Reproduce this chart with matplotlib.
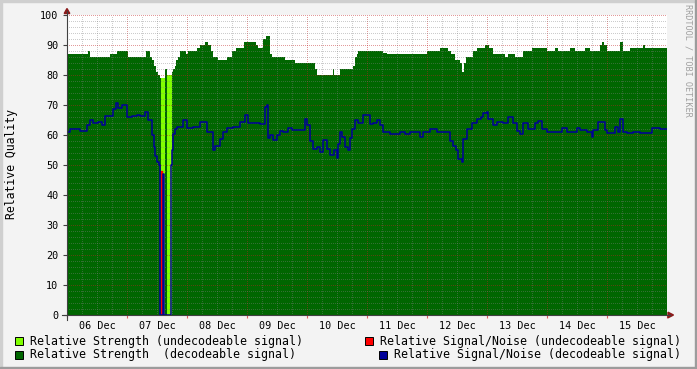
import numpy as np
import matplotlib
matplotlib.use("Agg")
import matplotlib.pyplot as plt
from matplotlib.patches import Rectangle, Polygon
from matplotlib.lines import Line2D

# ---------------- data (time in hours since 06 Dec 00:00) ----------------
day_labels = ["06 Dec", "07 Dec", "08 Dec", "09 Dec", "10 Dec",
              "11 Dec", "12 Dec", "13 Dec", "14 Dec", "15 Dec"]

# Relative Strength (decodeable signal) - step breakpoints
strength_dec_t = [0, 0.4, 8.4, 9.2, 17.2, 20, 24.4, 31.6, 33.2, 34, 34.8, 35.6, 36.4, 37.2,
                  37.6, 39.2, 40, 42, 42.4, 43.2, 43.6, 44.4, 45.2, 47.6, 48.4, 52, 53.2,
                  55.2, 56.4, 57.6, 58.4, 60.4, 64, 66, 67.6, 70.8, 75.6, 76.4, 78.4, 79.6,
                  81.2, 82, 87.2, 91.2, 99.2, 100, 106.4, 106.8, 109.2, 114.4, 115.2, 116,
                  116.4, 126.4, 128, 144, 149.2, 152.4, 153.6, 155.2, 157.2, 158, 158.8,
                  159.6, 162.4, 164, 167.2, 168.8, 170.4, 175.2, 176.4, 179.2, 182.4, 186,
                  192, 195.2, 196.4, 201.2, 203.2, 207.2, 209.2, 213.2, 214, 214.8, 216,
                  221.2, 222.4, 225.2, 230.4, 231.2, 240]
strength_dec_v = [86, 87, 88, 86, 87, 88, 86, 88, 86, 85, 83, 81, 80, 79,
                  0, 82, 0, 81, 82, 83, 85, 86, 88, 87, 88, 89, 90,
                  91, 90, 88, 86, 85, 86, 88, 89, 91, 90, 89, 92, 93,
                  87, 86, 85, 84, 82, 80, 82, 80, 82, 83, 86, 87,
                  88, 87.5, 87, 88, 89, 88, 87, 85, 84, 81, 84,
                  86, 88, 89, 90, 89, 87, 86, 87, 86, 88, 89,
                  88, 89, 88, 89, 88, 89, 88, 90, 91, 90, 88,
                  91, 88, 89, 90, 89, 89]

# Relative Strength (undecodeable signal)
strength_undec_t = [0, 37.6, 39.2, 40.0, 42.0, 240]
strength_undec_v = [0, 79, 0, 80, 0, 0]

# Relative Signal/Noise (undecodeable signal)
snr_undec_t = [37.4, 37.6, 38.0]
snr_undec_v = [0, 48, 0]

# Relative Signal/Noise (decodeable signal)
snr_dec_t = [0, 1.2, 5.2, 8, 9.2, 10.4, 12.4, 14, 15.2, 18.4, 19.6, 20.4, 22, 24, 26, 28,
             29.2, 31.2, 32.4, 34, 34.8, 35.2, 36, 36.8, 37.2, 38.4, 38.8, 41.6, 42, 42.4,
             43.2, 44, 46.4, 48, 50.4, 53.2, 56, 58.4, 59.2, 61.2, 62.4, 64, 66.4, 69.2,
             71.2, 72.4, 74.4, 77.2, 79.2, 80, 80.4, 81.2, 82.4, 84, 85.2, 86.4, 88.4, 90,
             95.2, 96, 97.2, 98.4, 100, 101.2, 102.4, 104, 105.2, 106.8, 108, 108.4, 109.2,
             110, 111.2, 112.4, 113.2, 114, 115.2, 116.4, 118.4, 121.2, 122.4, 124, 125.2,
             126.4, 129.2, 133.2, 135.2, 137.2, 141.2, 142.4, 145.2, 148, 153.2, 154.4,
             155.6, 156.4, 158, 158.4, 160, 162, 164, 165.6, 166.4, 168, 168.4, 170.4, 172,
             174.4, 176.4, 178.4, 180, 181.2, 182.4, 184.4, 187.2, 188.4, 190, 192, 198,
             200, 204, 205.2, 208, 210, 210.4, 212.4, 215.2, 216, 219.2, 220.4, 221.2,
             222.4, 224, 226.4, 229.2, 234, 237.2, 240]
snr_dec_v = [61, 62, 61.5, 63.3, 65, 64, 64.5, 63.5, 66.3, 68.7, 70.8, 69, 70, 66, 66.3, 66.7,
             66.3, 67.8, 65, 60, 56, 53, 51, 50, 0, 47, 0, 50, 55, 60.5,
             62, 62.8, 65, 62.2, 62.8, 64.5, 61, 55, 56.5, 58.6, 61, 62.5, 62.8, 64.4,
             66.7, 63.9, 64, 63.6, 69.4, 70, 59, 60, 58.3, 60, 61.5, 61, 62.5, 61.7,
             65.5, 63.5, 58, 55.5, 56, 54.5, 58.3, 55.5, 53.5, 55, 52.2, 57, 61,
             59.4, 56, 55, 59, 62, 65, 64, 66.7, 63.8, 64, 65, 63.5,
             61, 60.5, 61, 60.3, 61, 59.4, 61, 62, 61, 58, 56.5,
             55, 52, 51, 58.6, 62, 64, 65.5, 66, 67.2, 67.8, 65.5, 63.3, 64.5,
             64, 65.9, 64, 61.4, 60.5, 64, 62, 64, 64.7, 62, 61, 62.2,
             61, 62.5, 61.7, 61, 59.4, 61.7, 64.5, 61.7, 60.8, 62.8, 61, 65.5,
             61, 60.8, 61, 60.8, 62.5, 62, 62]

legend_labels = ["Relative Strength (undecodeable signal)",
                 "Relative Strength  (decodeable signal)",
                 "Relative Signal/Noise (undecodeable signal)",
                 "Relative Signal/Noise (decodeable signal)"]

# ---------------- styling ----------------
W, H = 697, 369
C_DARK = "#006600"
C_LIGHT = "#80FF00"
C_RED = "#FF0000"
C_BLUE = "#000099"
MONO = "DejaVu Sans Mono"

fig = plt.figure(figsize=(W / 100, H / 100), dpi=100, facecolor="#F3F3F3")
ax = fig.add_axes([67 / W, 54 / H, 600 / W, 300 / H])
ax.set_facecolor("white")
ax.set_xlim(0, 240)
ax.set_ylim(0, 100)

ax.fill_between(strength_dec_t, strength_dec_v, 0, step="post", color=C_DARK,
                linewidth=0, zorder=1)
ax.fill_between(strength_undec_t, strength_undec_v, 0, step="post", color=C_LIGHT,
                linewidth=0, zorder=1.1)

# grid (drawn over the areas, like rrdtool)
for h in np.arange(6, 240, 6):
    major = (h % 24 == 0)
    ax.axvline(h, color="#C02020" if major else "#808080", alpha=0.45 if major else 0.4,
               lw=0.72, ls=(0, (1, 1.6)), zorder=1.5, antialiased=False)
for y in np.arange(2, 101, 2):
    major = (y % 10 == 0)
    ax.axhline(y, color="#C02020" if major else "#808080", alpha=0.45 if major else 0.4,
               lw=0.72, ls=(0, (1, 1.6)), zorder=1.5, antialiased=False)

ax.plot(snr_undec_t, snr_undec_v, drawstyle="steps-post", color=C_RED, lw=1.0, zorder=2)
ax.plot(snr_dec_t, snr_dec_v, drawstyle="steps-post", color=C_BLUE, lw=1.1, zorder=2.1)

for s in ax.spines.values():
    s.set_visible(False)

ax.set_xticks(np.arange(12, 240, 24))
ax.set_xticklabels(day_labels, fontfamily=MONO, fontsize=7.3)
ax.set_xticks(np.arange(0, 241, 24), minor=True)
ax.tick_params(axis="x", which="major", length=0, pad=4)
ax.tick_params(axis="x", which="minor", length=2.2, color="#E06060", width=0.8)
ax.set_yticks(np.arange(0, 101, 10))
ax.set_yticklabels([str(v) for v in range(0, 101, 10)], fontfamily=MONO, fontsize=7.3)
ax.tick_params(axis="y", which="major", length=3, color="#404040", width=0.8, pad=3.2)


def P(px, py):
    return (px / W, 1 - py / H)


# axis lines with arrows
fig.add_artist(Line2D([P(67, 320)[0], P(67, 11)[0]], [P(67, 320)[1], P(67, 11)[1]],
                      color="#404040", lw=0.8, transform=fig.transFigure))
fig.add_artist(Line2D([P(62, 315)[0], P(670, 315)[0]], [P(62, 315)[1], P(670, 315)[1]],
                      color="#404040", lw=0.8, transform=fig.transFigure))
fig.add_artist(Polygon([P(64.2, 13.5), P(69.8, 13.5), P(67, 8.5)], closed=True,
                       color="#8B1A1A", transform=fig.transFigure))
fig.add_artist(Polygon([P(668, 312.2), P(668, 317.8), P(673.5, 315)], closed=True,
                       color="#8B1A1A", transform=fig.transFigure))

# y label
fig.text(12 / W, 1 - 164 / H, "Relative Quality", rotation=90, fontfamily=MONO,
         fontsize=8.3, ha="center", va="center")

# watermark
fig.text(688 / W, 1 - 4 / H, "RRDTOOL / TOBI OETIKER", rotation=270, fontfamily=MONO,
         fontsize=6.1, color="#A0A0A0", ha="center", va="top")

# legend
legend_items = [(15, 341, C_LIGHT, 30, legend_labels[0]),
                (15, 354.5, C_DARK, 30, legend_labels[1]),
                (365, 341, C_RED, 380, legend_labels[2]),
                (379, 354.5, C_BLUE, 394, legend_labels[3])]
for bx, cy, col, tx, lab in legend_items:
    x0, y0 = P(bx, cy + 4)
    fig.add_artist(Rectangle((x0, y0), 8 / W, 8 / H, facecolor=col, edgecolor="black",
                             lw=0.7, transform=fig.transFigure))
    fig.text(tx / W, 1 - cy / H, lab, fontfamily=MONO, fontsize=8.4, ha="left",
             va="center")

# 3D-like border of the canvas
fig.add_artist(Rectangle((0, 1 - 2 / H), 1, 2 / H, color="#CFCFCF", transform=fig.transFigure))
fig.add_artist(Rectangle((0, 0), 2 / W, 1, color="#CFCFCF", transform=fig.transFigure))
fig.add_artist(Rectangle((0, 0), 1, 2 / H, color="#9C9C9C", transform=fig.transFigure))
fig.add_artist(Rectangle((1 - 2 / W, 0), 2 / W, 1, color="#9C9C9C", transform=fig.transFigure))

fig.savefig("out.png", dpi=100, facecolor=fig.get_facecolor())
